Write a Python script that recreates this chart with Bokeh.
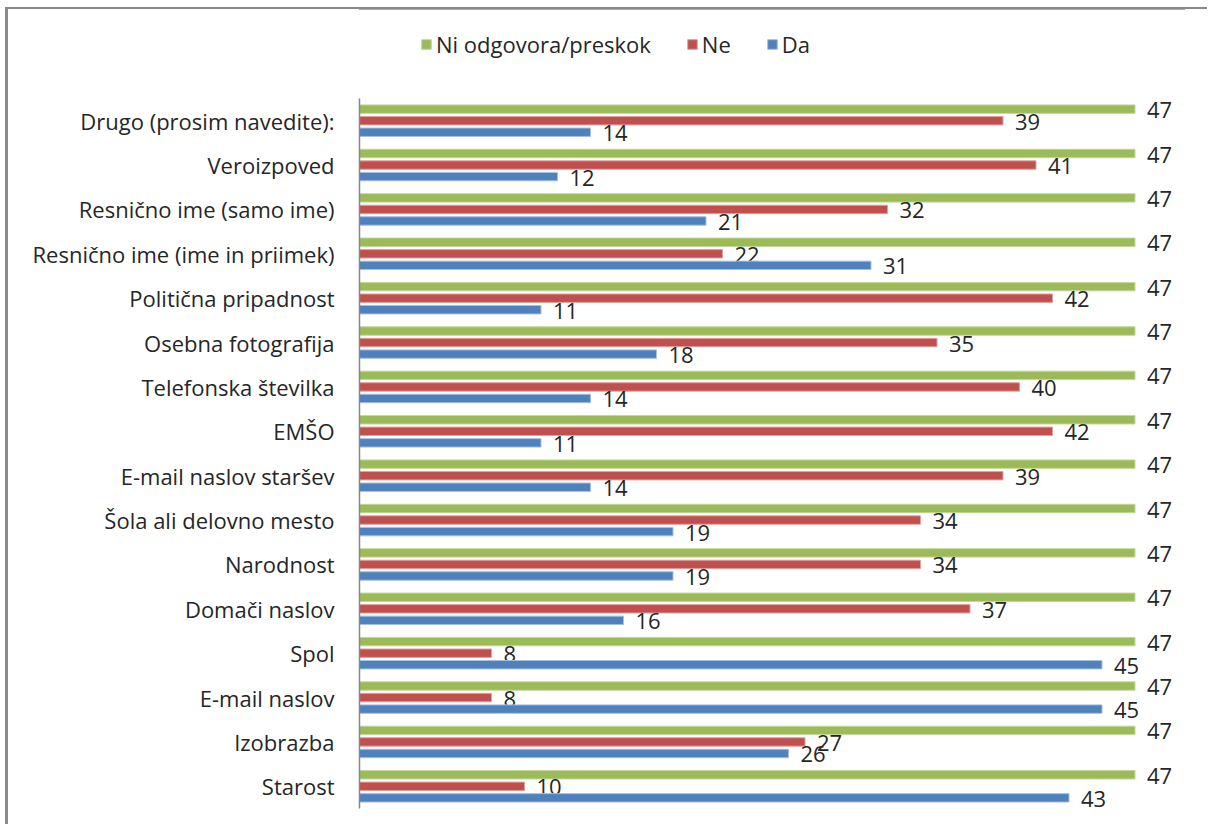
from bokeh.plotting import figure
from bokeh.layouts import column
from bokeh.models import ColumnDataSource, FactorRange, Range1d, Legend, LegendItem, InlineStyleSheet
from bokeh.transform import dodge
from bokeh.core.properties import value
from bokeh.embed import file_html
from bokeh.resources import INLINE

# Categories listed top to bottom as in the chart
categories = [
    "Drugo (prosim navedite):",
    "Veroizpoved",
    "Resnično ime (samo ime)",
    "Resnično ime (ime in priimek)",
    "Politična pripadnost",
    "Osebna fotografija",
    "Telefonska številka",
    "EMŠO",
    "E-mail naslov staršev",
    "Šola ali delovno mesto",
    "Narodnost",
    "Domači naslov",
    "Spol",
    "E-mail naslov",
    "Izobrazba",
    "Starost",
]
ni_odgovora = [47, 47, 47, 47, 47, 47, 47, 47, 47, 47, 47, 47, 47, 47, 47, 47]
ne = [39, 41, 32, 22, 42, 35, 40, 42, 39, 34, 34, 37, 8, 8, 27, 10]
da = [14, 12, 21, 31, 11, 18, 14, 11, 14, 19, 19, 16, 45, 45, 26, 43]
series_names = ["Ni odgovora/preskok", "Ne", "Da"]
series_fill = ["#9BBB59", "#C0504D", "#4F81BD"]
series_line = ["#c3d69b", "#e0a09e", "#a7c0de"]

FONT = "Open Sans"
TXT = "#262626"
FS = "22px"

src = ColumnDataSource(dict(
    cat=categories,
    ni=ni_odgovora, ne=ne, da=da,
    ni_l=[str(v) for v in ni_odgovora],
    ne_l=[str(v) for v in ne],
    da_l=[str(v) for v in da],
))

W = 1202
LEG_H = 60

p = figure(
    width=W, height=755,
    y_range=FactorRange(factors=categories[::-1]),
    x_range=Range1d(0, 50),
    x_axis_location=None,
    output_backend="svg", toolbar_location=None,
    min_border_left=351, min_border_top=29,
    min_border_right=23, min_border_bottom=16,
)

cols = [("ni", "ni_l", 0.26), ("ne", "ne_l", 0.0), ("da", "da_l", -0.26)]
for (col, lab, off), fill, line in zip(cols, series_fill, series_line):
    y = dodge("cat", off, range=p.y_range)
    p.hbar(y=y, right=col, left=0, height=0.19, source=src,
           fill_color=fill, line_color=line, line_width=1)
    p.text(x=col, y=y, text=lab, source=src, x_offset=12, y_offset=1,
           text_baseline="middle", text_align="left",
           text_font=value(FONT), text_font_size=FS, text_color=TXT)

p.xgrid.grid_line_color = None
p.ygrid.grid_line_color = None
p.outline_line_color = None

ax = p.yaxis[0]
ax.axis_line_color = "#868686"
ax.axis_line_width = 1.5
ax.major_tick_line_color = None
ax.minor_tick_line_color = None
ax.major_tick_in = 0
ax.major_tick_out = 0
ax.major_label_standoff = 25
ax.major_label_text_font = FONT
ax.major_label_text_font_size = FS
ax.major_label_text_color = TXT

# Legend strip on top (its frame is aligned with the chart's frame)
lf = figure(
    width=W, height=LEG_H,
    x_range=Range1d(0, 1), y_range=Range1d(0, 1),
    x_axis_location=None, y_axis_location=None,
    output_backend="svg", toolbar_location=None,
    min_border=0,
)
lf.xgrid.grid_line_color = None
lf.ygrid.grid_line_color = None
lf.outline_line_color = None
leg_renderers = []
for (col, lab, off), fill, line in zip(cols, series_fill, series_line):
    # same series, placed outside this strip's visible range (only used as legend keys)
    r = lf.hbar(y=col, right=col, left=0, height=0.5, source=src,
                fill_color=fill, line_color=line, line_width=1)
    leg_renderers.append(r)

legend = Legend(
    items=[LegendItem(label=n, renderers=[r]) for n, r in zip(series_names, leg_renderers)],
    orientation="horizontal", location=(61, 10),
    padding=0, margin=0, border_line_color=None, background_fill_alpha=0,
    glyph_width=12, glyph_height=12, label_standoff=4, spacing=35,
    label_text_font=FONT, label_text_font_size=FS, label_text_color=TXT,
)
lf.add_layout(legend)

frame_css = InlineStyleSheet(css=""":host {
  border-top: 2px solid #8a8a8a;
  border-left: 3px solid #8a8a8a;
  margin-left: 5px;
  margin-top: 7px;
}""")
layout = column(lf, p, spacing=0, width=W, stylesheets=[frame_css])

open("out.html", "w").write(file_html(layout, INLINE))
